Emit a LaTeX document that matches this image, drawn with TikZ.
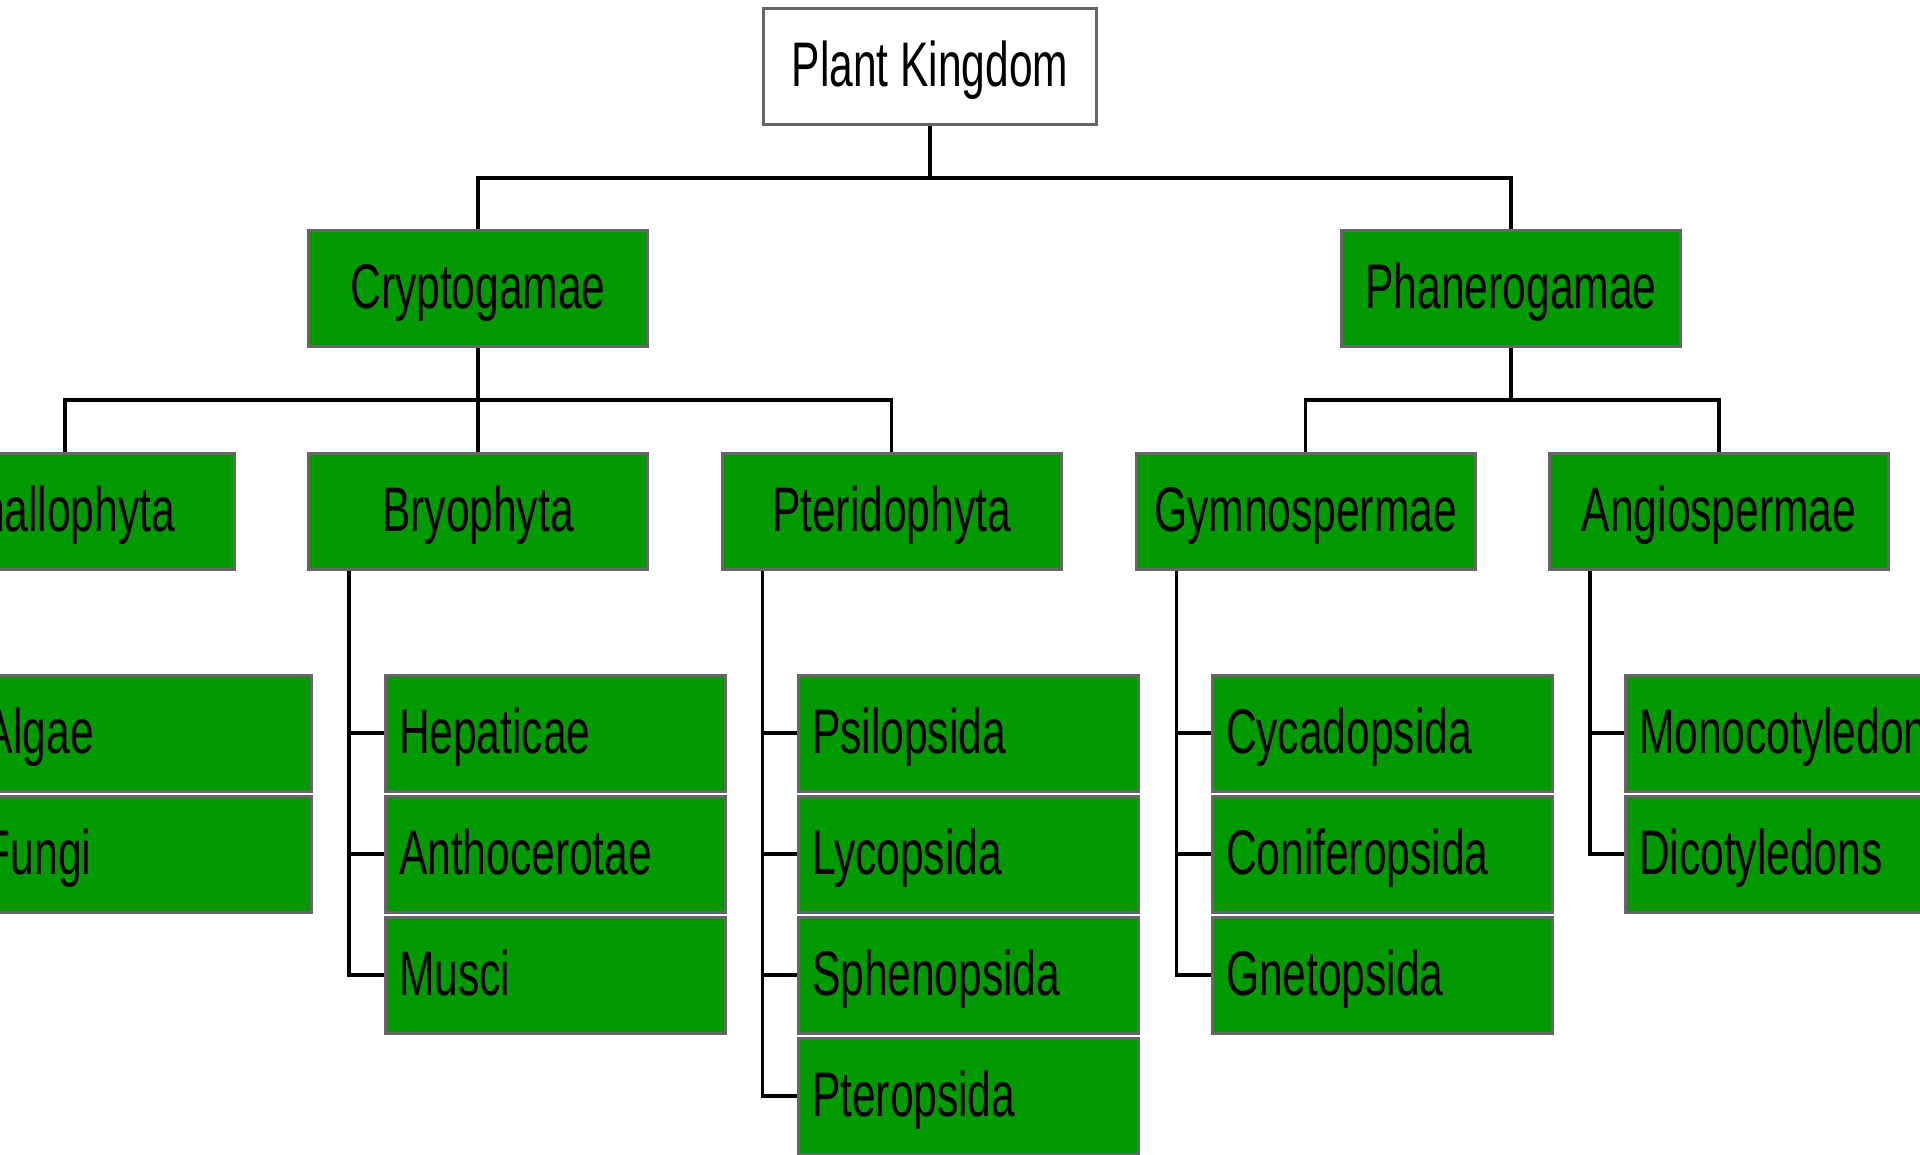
\documentclass[tikz,border=0pt]{standalone}
\usepackage{fontspec}
\setmainfont{Liberation Sans}[FakeStretch=0.675]
\definecolor{leaf}{RGB}{0,153,0}
\definecolor{rim}{RGB}{102,102,102}
\tikzset{
  box/.style={draw=rim, line width=1.5pt, fill=leaf, minimum width=169.5pt,
    minimum height=58pt, inner sep=0pt, font=\fontsize{31.5pt}{36pt}\selectfont,
    text height=25pt, text depth=5pt},
  rootbox/.style={box, fill=white, minimum width=166.5pt},
  leafbox/.style={box, text width=156pt, align=left, inner xsep=7pt},
  link/.style={line width=1.6pt, black}
}
\begin{document}
\begin{tikzpicture}[x=0.5pt,y=-0.5pt]
\useasboundingbox (0,0) rectangle (1920,1155);
\clip (0,0) rectangle (1920,1155);
\fill[white] (0,0) rectangle (1920,1155);
% level 1
\node[rootbox] (pk) at (930,66.5) {Plant Kingdom};
% level 2
\node[box] (cr) at (478,288.5) {Cryptogamae};
\node[box] (ph) at (1511,288.5) {Phanerogamae};
% level 3
\node[box] (th) at (65,511.5) {Thallophyta};
\node[box] (br) at (478,511.5) {Bryophyta};
\node[box] (pt) at (891.5,511.5) {Pteridophyta};
\node[box] (gy) at (1305.5,511.5) {Gymnospermae};
\node[box] (an) at (1719,511.5) {Angiospermae};
% level 4
\node[leafbox] (al) at (141,733) {Algae};
\node[leafbox] (fu) at (141,854) {Fungi};
\node[leafbox] (he) at (555,733) {Hepaticae};
\node[leafbox] (ah) at (555,854) {Anthocerotae};
\node[leafbox] (mu) at (555,975) {Musci};
\node[leafbox] (ps) at (968,733) {Psilopsida};
\node[leafbox] (ly) at (968,854) {Lycopsida};
\node[leafbox] (sp) at (968,975) {Sphenopsida};
\node[leafbox] (pr) at (968,1096) {Pteropsida};
\node[leafbox] (cy) at (1382,733) {Cycadopsida};
\node[leafbox] (co) at (1382,854) {Coniferopsida};
\node[leafbox] (gn) at (1382,975) {Gnetopsida};
\node[leafbox] (mo) at (1795,733) {Monocotyledons};
\node[leafbox] (di) at (1795,854) {Dicotyledons};
% buses
\path (pk.south) ++(0,52) coordinate (b1);
\draw[link] (pk.south) -- (b1);
\draw[link] (cr.north) |- (b1);
\draw[link] (ph.north) |- (b1);
\path (cr.south) ++(0,52) coordinate (b2);
\draw[link] (cr.south) -- (b2);
\draw[link] (th.north) |- (b2);
\draw[link] (br.north) -- (b2);
\draw[link] (pt.north) |- (b2);
\path (ph.south) ++(0,52) coordinate (b3);
\draw[link] (ph.south) -- (b3);
\draw[link] (gy.north) |- (b3);
\draw[link] (an.north) |- (b3);
% elbows
\foreach \p/\c in {th/al,th/fu,br/he,br/ah,br/mu,pt/ps,pt/ly,pt/sp,pt/pr,gy/cy,gy/co,gy/gn,an/mo,an/di}
  \draw[link] ([xshift=21pt]\p.south west) |- (\c.west);
\end{tikzpicture}
\end{document}
